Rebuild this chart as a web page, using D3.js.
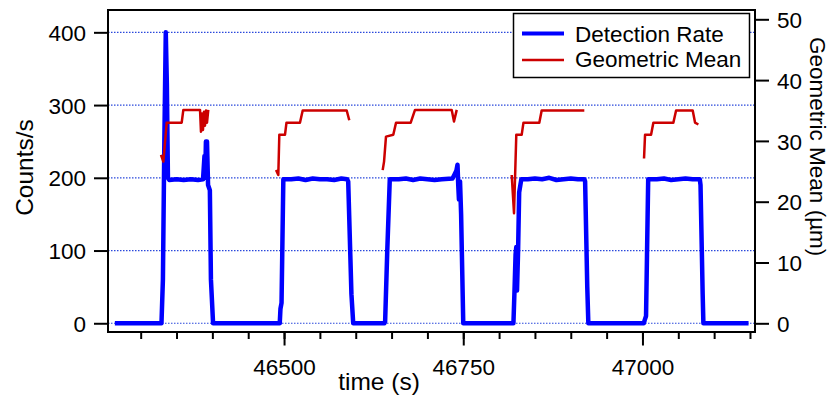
<!DOCTYPE html>
<html>
<head>
<meta charset="utf-8">
<script src="https://cdn.jsdelivr.net/npm/d3@7"></script>
<style>
	body { margin:0; background:#fff; }
	svg text { font-family: "Liberation Sans", Arial, sans-serif; fill:#000; }
</style>
</head>
<body>
<div id="chart"></div>
<script>
//DATA - detection rate (counts/s) vs time (s)
var rateTime = [46264,46329,46331,46333,46335,46336.5,46338,46340,46350,46360,46370,46380,46387,46389,46390,46391,46392.5,46394,46396.5,46398,46401,
	46491,46494,46495,46496.5,46499,46510,46520,46530,46540,46550,46560,46570,46580,46588,46589.5,46594,46596.5,
	46640,46641,46644,46647.5,46660,46670,46680,46690,46700,46710,46720,46735,46738,46740.5,46742,46743,46744,46745.5,46747,46750,
	46820,46821.5,46823,46824,46825,46826.5,46828,46831,46840,46850,46860,46870,46880,46890,46900,46910,46919,46920,46923,46924.5,
	47002,47003,47005,47008,47020,47030,47040,47050,47060,47070,47080,47081,47084,47085,47148];
var rateVal = [0,0,60,250,400,330,200,197,198,197,198,197,198,230,200,250,250,190,183,60,0,
	0,0,20,28,198,198,199,197,199,198,198,197,199,198,195,40,0,
	0,2,100,198,198,199,197,199,198,197,198,199,205,210,218,190,170,195,150,0,
	0,45,95,105,45,100,180,198,198,199,198,200,197,198,199,198,198,195,50,0,
	0,4,10,198,198,199,197,198,199,198,198,190,40,0,0];

//geometric mean (um), null = gap in the trace
var geoTime = [46328.3,46331.6,46336.3,46357.2,46359.5,46382.8,46384.1,46385.5,46386.9,46388.3,46389.7,46391.1,46392.5,46394.3,46394.5,
	46488.8,46492,46493.4,46501.3,46503.4,46522.2,46526,46587.4,46591,46591.5,
	46637.6,46639.5,46642.2,46652.4,46656.2,46676.7,46682.7,46733.9,46737.1,46740.9,46741,
	46817.6,46820.8,46824,46831.5,46834,46856.1,46859.4,46918.9,46919,
	47002.2,47003.6,47012,47015.2,47043.1,47046.9,47070.1,47073.4,47078];
var geoMean = [27.7,26.6,33.0,33.0,35.1,35.1,31.5,34.5,31.8,34.8,32.5,35,33,35.1,null,
	25.2,24.4,31.0,31.0,33.0,33.0,35.0,35.0,33.4,null,
	25.2,26.6,30.7,31.0,33.0,33.0,35.1,35.1,33.2,35.1,null,
	24.4,18.1,31.0,31.0,33.0,33.0,35.0,35.0,null,
	27.1,31.0,31.0,33.0,33.0,35.0,35.0,33.0,32.7];

var rateTicks = [0,100,200,300,400];
var geoTicks = [0,10,20,30,40,50];
var timeTicks = [46500,46750,47000];
var timeMinor = d3.range(46300,47151,50);

//SIZES
var W = 830, H = 396;
var plotLeft = 108, plotRight = 755, plotTop = 10, plotBottom = 332;

var svg = d3.select('#chart')
.append('svg')
.attr('width', W)
.attr('height', H);

//SCALES
var x = d3.scaleLinear().domain([46254.4, 47157.0]).range([plotLeft, plotRight]);
var yLeft = d3.scaleLinear().domain([-12, 430.7]).range([plotBottom, plotTop]);
var yRight = d3.scaleLinear().domain([-1.43, 51.53]).range([plotBottom, plotTop]);

//dotted grid lines
svg.append('g')
.selectAll('line')
.data(rateTicks)
.enter()
.append('line')
.attr('x1', plotLeft)
.attr('x2', plotRight)
.attr('y1', function(d){ return yLeft(d); })
.attr('y2', function(d){ return yLeft(d); })
.attr('stroke', '#2a48dc')
.attr('stroke-width', 1.2)
.attr('stroke-dasharray', '1.5,1.5');

//AXES
var fontSize = 22.5;

var leftAxis = svg.append('g')
.attr('transform', 'translate(' + plotLeft + ',0)')
.call(d3.axisLeft(yLeft).tickValues(rateTicks).tickSize(14).tickPadding(8));

var rightAxis = svg.append('g')
.attr('transform', 'translate(' + plotRight + ',0)')
.call(d3.axisRight(yRight).tickValues(geoTicks).tickSize(14).tickPadding(8));

var bottomMinor = svg.append('g')
.attr('transform', 'translate(0,' + plotBottom + ')')
.call(d3.axisBottom(x).tickValues(timeMinor).tickSize(7).tickFormat(''));

var bottomAxis = svg.append('g')
.attr('transform', 'translate(0,' + plotBottom + ')')
.call(d3.axisBottom(x).tickValues(timeTicks).tickSize(13.5).tickPadding(14).tickFormat(d3.format('d')));

[leftAxis, rightAxis, bottomMinor, bottomAxis].forEach(function(a){
	a.select('.domain').remove();
	a.selectAll('line').attr('stroke', '#000').attr('stroke-width', 2);
	a.selectAll('text')
	.attr('font-size', fontSize)
	.attr('font-family', '"Liberation Sans", Arial, sans-serif')
	.attr('fill', '#000');
});
leftAxis.selectAll('text').attr('dy', '0.36em');
rightAxis.selectAll('text').attr('dy', '0.36em');

//LINES
var rateLine = d3.line()
.x(function(d){ return x(d[0]); })
.y(function(d){ return yLeft(d[1]); });

var geoLine = d3.line()
.defined(function(d){ return d[1] !== null; })
.x(function(d){ return x(d[0]); })
.y(function(d){ return yRight(d[1]); });

svg.append('path')
.datum(rateTime.map(function(t,i){ return [t, rateVal[i]]; }))
.attr('d', rateLine)
.attr('fill', 'none')
.attr('stroke', '#0000ff')
.attr('stroke-width', 4.5)
.attr('stroke-linejoin', 'round');

svg.append('path')
.datum(geoTime.map(function(t,i){ return [t, geoMean[i]]; }))
.attr('d', geoLine)
.attr('fill', 'none')
.attr('stroke', '#cc0000')
.attr('stroke-width', 2.5)
.attr('stroke-linejoin', 'round');

//FRAME
svg.append('rect')
.attr('x', plotLeft)
.attr('y', plotTop)
.attr('width', plotRight - plotLeft)
.attr('height', plotBottom - plotTop)
.attr('fill', 'none')
.attr('stroke', '#000')
.attr('stroke-width', 2);

//TITLES
svg.append('text')
.attr('transform', 'translate(33.3,167.5) rotate(-90)')
.attr('text-anchor', 'middle')
.attr('font-size', 24.5)
.text('Counts/s');

svg.append('text')
.attr('transform', 'translate(809.5,146.7) rotate(90)')
.attr('text-anchor', 'middle')
.attr('font-size', fontSize)
.text('Geometric Mean (\u00b5m)');

svg.append('text')
.attr('x', 379)
.attr('y', 390)
.attr('text-anchor', 'middle')
.attr('font-size', 24.5)
.text('time (s)');

//LEGEND
var legend = svg.append('g');

legend.append('rect')
.attr('x', 513.5)
.attr('y', 13.5)
.attr('width', 236)
.attr('height', 64)
.attr('fill', '#fff')
.attr('stroke', '#000')
.attr('stroke-width', 1.5);

var legendItems = [
	{name:'Detection Rate', color:'#0000ff', width:4, y:33.5, base:41.7},
	{name:'Geometric Mean', color:'#cc0000', width:2.5, y:60, base:66.7}
];

legend.selectAll('line')
.data(legendItems)
.enter()
.append('line')
.attr('x1', 522)
.attr('x2', 564)
.attr('y1', function(d){ return d.y; })
.attr('y2', function(d){ return d.y; })
.attr('stroke', function(d){ return d.color; })
.attr('stroke-width', function(d){ return d.width; });

legend.selectAll('text')
.data(legendItems)
.enter()
.append('text')
.attr('x', 575)
.attr('y', function(d){ return d.base; })
.attr('font-size', fontSize)
.text(function(d){ return d.name; });
</script>
</body>
</html>
